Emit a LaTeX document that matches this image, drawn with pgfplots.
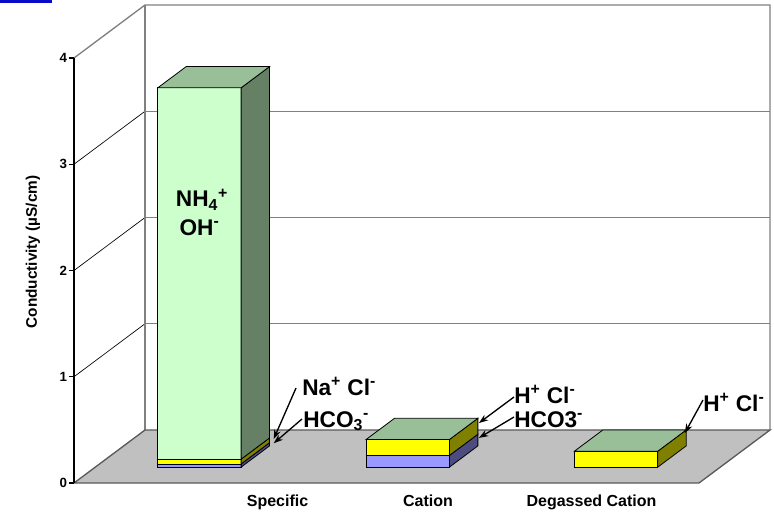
\documentclass[border=0pt]{standalone}
\usepackage{fontspec}
\setmainfont{Liberation Sans}
\usepackage{pgfplots}
\pgfplotsset{compat=1.18}
\usetikzlibrary{arrows.meta}

\definecolor{hcoF}{HTML}{9999FF}
\definecolor{hcoS}{HTML}{4C4C80}
\definecolor{clF}{HTML}{FFFF00}
\definecolor{clS}{HTML}{808000}
\definecolor{nhF}{HTML}{CCFFCC}
\definecolor{nhS}{HTML}{668066}
\definecolor{nhT}{HTML}{99BF99}
\definecolor{floorgray}{HTML}{C0C0C0}
\definecolor{edgegray}{HTML}{5A5A5A}
\definecolor{gridgray}{HTML}{808080}
\definecolor{slideblue}{HTML}{0A0ACC}

% one stacked slab of a 3-D column: x-left, x-right, base, top, front colour, side colour
\newcommand\slab[6]{%
  \addplot3[fill=#5, draw=black, line width=0.6pt] coordinates
    {(#1,0.3,#3) (#2,0.3,#3) (#2,0.3,#4) (#1,0.3,#4)} -- cycle;
  \addplot3[fill=#6, draw=black, line width=0.6pt] coordinates
    {(#2,0.3,#3) (#2,0.7,#3) (#2,0.7,#4) (#2,0.3,#4)} -- cycle;
}
% top face of a column: x-left, x-right, height
\newcommand\lid[3]{%
  \addplot3[fill=nhT, draw=black, line width=0.6pt] coordinates
    {(#1,0.3,#3) (#2,0.3,#3) (#2,0.7,#3) (#1,0.7,#3)} -- cycle;
}
\tikzset{ticklab/.style={anchor=east, inner sep=0pt, font=\fontsize{10}{12}\selectfont\bfseries}}

\begin{document}
\begin{tikzpicture}
\begin{axis}[
  x={(156.25pt,0pt)}, y={(53.25pt,39.75pt)}, z={(0pt,79.6875pt)},
  xmin=0, xmax=3, ymin=0, ymax=1, zmin=0, zmax=4,
  hide axis, clip=false, no markers,
]
% page frame and slide accent
\coordinate (bbA) at (axis cs:-0.3552,0,-0.2635);
\coordinate (bbB) at (axis cs:3.36,0,4.5459);
\fill[slideblue] (axis cs:-0.3552,0,4.5459) rectangle (axis cs:-0.1056,0,4.5176);

% walls
\addplot3[fill=white, draw=none] coordinates {(0,1,0) (3,1,0) (3,1,4) (0,1,4)} -- cycle;
\addplot3[fill=white, draw=none] coordinates {(0,0,0) (0,1,0) (0,1,4) (0,0,4)} -- cycle;
% gridlines
\addplot3[black, line width=0.5pt] coordinates {(0,0,1) (0,1,1)};
\addplot3[black, line width=0.5pt] coordinates {(0,0,2) (0,1,2)};
\addplot3[black, line width=0.5pt] coordinates {(0,0,3) (0,1,3)};
\addplot3[gridgray, line width=1pt] coordinates {(0,1,1) (3,1,1)};
\addplot3[gridgray, line width=1pt] coordinates {(0,1,2) (3,1,2)};
\addplot3[gridgray, line width=1pt] coordinates {(0,1,3) (3,1,3)};
\addplot3[gridgray, line width=1pt] coordinates {(0,0,4) (0,1,4) (3,1,4) (3,1,0)};
\addplot3[gridgray, line width=1.2pt] coordinates {(0,1,0) (0,1,4)};
% floor
\addplot3[fill=floorgray, draw=edgegray, line width=1pt] coordinates
  {(0,0,0) (3,0,0) (3,1,0) (0,1,0)} -- cycle;

% Specific: HCO3-, Na+Cl-, NH4+OH-
\slab{0.3}{0.7}{0}{0.03}{hcoF}{hcoS}
\slab{0.3}{0.7}{0.03}{0.075}{clF}{clS}
\slab{0.3}{0.7}{0.075}{3.57}{nhF}{nhS}
\lid{0.3}{0.7}{3.57}
% Cation: HCO3-, H+Cl-
\slab{1.3}{1.7}{0}{0.11}{hcoF}{hcoS}
\slab{1.3}{1.7}{0.11}{0.26}{clF}{clS}
\lid{1.3}{1.7}{0.26}
% Degassed cation: H+Cl-
\slab{2.3}{2.7}{0}{0.15}{clF}{clS}
\lid{2.3}{2.7}{0.15}

% value axis
\addplot3[black, line width=0.8pt] coordinates {(0,0,0) (0,0,4)};
\addplot3[black, line width=0.8pt] coordinates {(-0.026,0,0) (0,0,0)};
\addplot3[black, line width=0.8pt] coordinates {(-0.026,0,1) (0,0,1)};
\addplot3[black, line width=0.8pt] coordinates {(-0.026,0,2) (0,0,2)};
\addplot3[black, line width=0.8pt] coordinates {(-0.026,0,3) (0,0,3)};
\addplot3[black, line width=0.8pt] coordinates {(-0.026,0,4) (0,0,4)};
\node[ticklab] at (axis cs:-0.032,0,0) {0};
\node[ticklab] at (axis cs:-0.032,0,1) {1};
\node[ticklab] at (axis cs:-0.032,0,2) {2};
\node[ticklab] at (axis cs:-0.032,0,3) {3};
\node[ticklab] at (axis cs:-0.032,0,4) {4};
\node[rotate=90, anchor=base, inner sep=0pt, font=\fontsize{11.5}{13}\selectfont\bfseries]
  at (axis cs:-0.1776,0,2.174) {Conductivity (µS/cm)};

% category names
\node[anchor=base, inner sep=0pt, font=\fontsize{12}{14}\selectfont\bfseries]
  at (axis cs:0.977,0,-0.2165) {Specific};
\node[anchor=base, inner sep=0pt, font=\fontsize{12}{14}\selectfont\bfseries]
  at (axis cs:1.699,0,-0.2165) {Cation};
\node[anchor=base, inner sep=0pt, font=\fontsize{12}{14}\selectfont\bfseries]
  at (axis cs:2.484,0,-0.2165) {Degassed Cation};

% species labels
\node[anchor=base, inner sep=0pt, font=\fontsize{17}{20}\selectfont\bfseries]
  at (axis cs:0.6144,0,2.598) {NH\textsubscript{4}\textsuperscript{+}};
\node[anchor=base, inner sep=0pt, font=\fontsize{17}{20}\selectfont\bfseries]
  at (axis cs:0.6024,0,2.334) {OH\textsuperscript{-}};

\node[anchor=base west, inner sep=0pt, font=\fontsize{17}{20}\selectfont\bfseries]
  at (axis cs:1.0944,0,0.8282) {Na\textsuperscript{+} Cl\textsuperscript{-}};
\node[anchor=base west, inner sep=0pt, font=\fontsize{17}{20}\selectfont\bfseries]
  at (axis cs:1.0992,0,0.5271) {HCO\textsubscript{3}\textsuperscript{-}};
\node[anchor=base west, inner sep=0pt, font=\fontsize{17}{20}\selectfont\bfseries]
  at (axis cs:2.112,0,0.7529) {H\textsuperscript{+} Cl\textsuperscript{-}};
\node[anchor=base west, inner sep=0pt, font=\fontsize{17}{20}\selectfont\bfseries]
  at (axis cs:2.112,0,0.5271) {HCO3\textsuperscript{-}};
\node[anchor=base west, inner sep=0pt, font=\fontsize{17}{20}\selectfont\bfseries]
  at (axis cs:3.0192,0,0.6776) {H\textsuperscript{+} Cl\textsuperscript{-}};

% pointers
\draw[line width=1pt, -{Stealth[length=7pt,width=5pt]}]
  (axis cs:1.0656,0,0.894) -- (axis cs:0.72,0.7,0.065);
\draw[line width=1pt, -{Stealth[length=7pt,width=5pt]}]
  (axis cs:1.0944,0,0.6024) -- (axis cs:0.72,0.7,0.025);
\draw[line width=1pt, -{Stealth[length=7pt,width=5pt]}]
  (axis cs:2.112,0,0.8094) -- (axis cs:1.705,0.7,0.215);
\draw[line width=1pt, -{Stealth[length=7pt,width=5pt]}]
  (axis cs:2.112,0,0.6212) -- (axis cs:1.705,0.7,0.075);
\draw[line width=1pt, -{Stealth[length=7pt,width=5pt]}]
  (axis cs:3.0192,0,0.7812) -- (axis cs:2.7,0.68,0.13);
\end{axis}
\pgfresetboundingbox
\useasboundingbox (bbA) rectangle (bbB);
\end{tikzpicture}
\end{document}
